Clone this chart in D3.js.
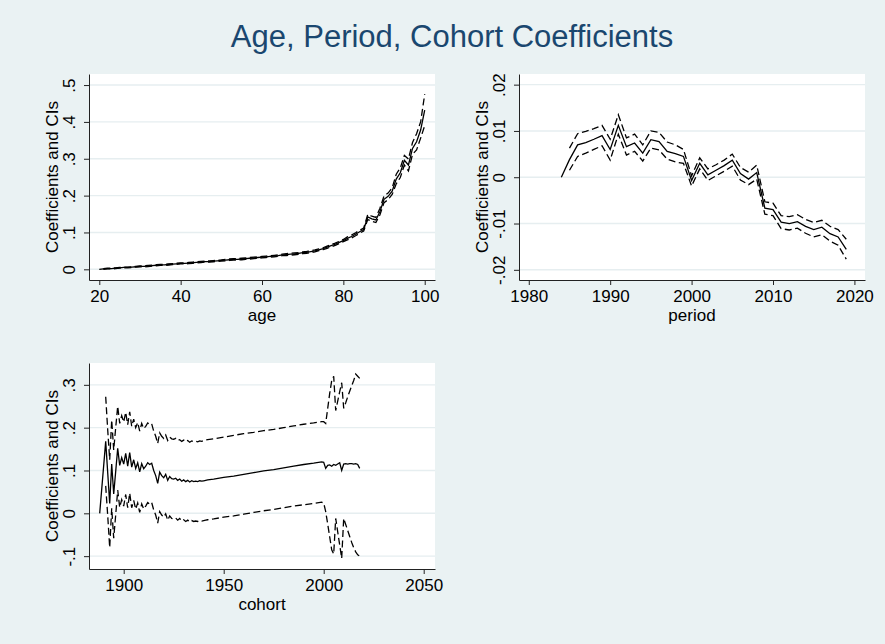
<!DOCTYPE html>
<html><head><meta charset="utf-8">
<script src="https://cdn.jsdelivr.net/npm/d3@7"></script>
<style>body{margin:0;background:#eaf2f3} svg{display:block}</style>
</head><body><svg id="c" width="885" height="644"></svg>
<script>
// ---------- AGE ----------
const ageX = [20,21,22,23,24,25,26,27,28,29,30,31,32,33,34,35,36,37,38,39,40,41,42,43,44,45,46,47,48,49,50,51,52,53,54,55,56,57,58,59,60,61,62,63,64,65,66,67,68,69,70,71,72,73,74,75,76,77,78,79,80,81,82,83,84,85,86,87,88,89,90,91,92,93,94,95,96,97,98,99,100];
const ageCoef = [0,.001,.002,.002,.003,.004,.005,.005,.006,.007,.008,.008,.009,.010,.011,.012,.012,.013,.014,.015,.016,.016,.017,.018,.019,.020,.021,.021,.022,.023,.024,.025,.026,.027,.027,.028,.029,.030,.031,.032,.033,.034,.035,.036,.037,.039,.040,.041,.042,.043,.045,.046,.048,.050,.053,.056,.060,.064,.068,.073,.078,.084,.089,.095,.102,.108,.142,.137,.134,.157,.190,.198,.212,.245,.262,.296,.283,.328,.346,.378,.432];
const ageUpper = [null,.002,.003,.003,.004,.005,.006,.006,.007,.008,.009,.0095,.0105,.0115,.0125,.0135,.0135,.0145,.0155,.0165,.0175,.0175,.0185,.0195,.0205,.0215,.0225,.0225,.0235,.0245,.0255,.027,.028,.029,.029,.030,.031,.032,.033,.034,.035,.036,.037,.038,.039,.041,.0425,.0435,.0445,.0455,.0475,.0485,.0505,.0525,.0555,.0585,.063,.067,.071,.076,.081,.088,.093,.099,.106,.112,.149,.144,.141,.166,.199,.207,.221,.258,.275,.309,.299,.344,.368,.400,.475];
const ageLower = [null,0,.001,.001,.002,.003,.004,.004,.005,.006,.007,.0065,.0075,.0085,.0095,.0105,.0105,.0115,.0125,.0135,.0145,.0145,.0155,.0165,.0175,.0185,.0195,.0195,.0205,.0215,.0225,.023,.024,.025,.025,.026,.027,.028,.029,.030,.031,.032,.033,.034,.035,.037,.0375,.0385,.0395,.0405,.0425,.0435,.0455,.0475,.0505,.0535,.057,.061,.065,.070,.075,.080,.085,.091,.098,.104,.135,.130,.127,.148,.181,.189,.203,.232,.249,.283,.267,.312,.324,.356,.390];
const ageXTicks = [20,40,60,80,100];
const ageYTicks = [0,.1,.2,.3,.4,.5];
const ageYLabels = ["0",".1",".2",".3",".4",".5"];

// ---------- PERIOD ----------
const periodX = [1984,1985,1986,1987,1988,1989,1990,1991,1992,1993,1994,1995,1996,1997,1998,1999,2000,2001,2002,2003,2004,2005,2006,2007,2008,2009,2010,2011,2012,2013,2014,2015,2016,2017,2018,2019];
const periodCoef = [0,.0038,.0070,.0075,.0082,.0090,.0060,.0112,.0066,.0074,.0052,.0081,.0077,.0056,.0051,.0045,-.0007,.0030,.0005,.0015,.0025,.0037,.0008,-.0004,.0010,-.0067,-.0070,-.0097,-.0100,-.0096,-.0106,-.0113,-.0108,-.0122,-.0129,-.0156];
const periodUpper = [null,.0063,.0094,.0099,.0105,.0112,.0082,.0135,.0085,.0093,.0070,.0100,.0097,.0076,.0070,.0060,.0003,.0042,.0018,.0027,.0037,.0050,.0021,.0011,.0026,-.0053,-.0056,-.0083,-.0085,-.0081,-.0091,-.0098,-.0093,-.0106,-.0113,-.0134];
const periodLower = [null,.0015,.0045,.0052,.0060,.0068,.0037,.0093,.0048,.0056,.0035,.0063,.0059,.0039,.0033,.0030,-.0019,.0018,-.0007,.0003,.0013,.0024,-.0006,-.0016,-.0004,-.0080,-.0083,-.0111,-.0114,-.0110,-.0121,-.0129,-.0124,-.0138,-.0147,-.0177];
const periodXTicks = [1980,1990,2000,2010,2020];
const periodYTicks = [-.02,-.01,0,.01,.02];
const periodYLabels = ["-.02","-.01","0",".01",".02"];

// ---------- COHORT ----------
const cohortX = [1888,1891,1892,1893,1894,1895,1896,1897,1898,1899,1900,1901,1902,1903,1904,1905,1906,1907,1908,1909,1910,1911,1912,1913,1914,1915,1916,1917,1918,1919,1920,1921,1922,1923,1924,1925,1926,1927,1928,1929,1930,1931,1932,1933,1934,1935,1936,1937,1938,1939,1940,1941,1942,1945,1950,1955,1960,1965,1970,1975,1980,1985,1990,1995,1999,2000,2001,2002,2003,2004,2005,2006,2007,2008,2009,2010,2011,2012,2013,2014,2015,2016,2017,2018];
const cohortCoef = [0,.168,.095,.023,.115,.045,.098,.152,.112,.130,.115,.140,.110,.142,.108,.125,.105,.118,.097,.116,.104,.110,.118,.114,.117,.100,.088,.070,.096,.088,.083,.091,.077,.086,.081,.080,.082,.077,.080,.075,.078,.074,.077,.073,.076,.074,.075,.074,.076,.075,.076,.077,.078,.080,.084,.087,.091,.095,.099,.102,.106,.110,.114,.117,.120,.119,.105,.112,.113,.110,.114,.112,.115,.118,.100,.115,.116,.115,.116,.116,.115,.116,.114,.105];
const cohortUpper = [null,.272,.195,.125,.218,.148,.200,.250,.210,.228,.213,.236,.207,.237,.203,.220,.200,.212,.192,.210,.198,.203,.211,.207,.209,.192,.180,.163,.188,.180,.175,.183,.170,.178,.174,.173,.175,.170,.172,.168,.171,.167,.170,.166,.169,.167,.168,.167,.169,.168,.170,.171,.172,.174,.178,.182,.186,.189,.193,.196,.200,.204,.208,.211,.214,.214,.210,.245,.280,.310,.320,.240,.262,.284,.305,.245,.258,.272,.285,.298,.310,.325,.320,.315];
const cohortLower = [null,.064,-.005,-.080,.012,-.058,-.004,.054,.014,.032,.017,.044,.013,.047,.013,.030,.010,.024,.002,.022,.010,.017,.025,.021,.025,.008,-.004,-.023,.004,-.004,-.009,-.001,-.016,-.006,-.012,-.013,-.011,-.016,-.012,-.018,-.015,-.019,-.016,-.020,-.017,-.019,-.018,-.019,-.017,-.018,-.017,-.016,-.015,-.013,-.009,-.006,-.002,.002,.006,.009,.013,.017,.020,.023,.026,.024,.004,-.025,-.055,-.085,-.095,-.012,-.043,-.074,-.105,-.012,-.026,-.040,-.054,-.068,-.080,-.090,-.097,-.100];
const cohortXTicks = [1900,1950,2000,2050];
const cohortYTicks = [-.1,0,.1,.2,.3];
const cohortYLabels = ["-.1","0",".1",".2",".3"];

const FONT = '"Liberation Sans", Arial, Helvetica, sans-serif';
const svg = d3.select("#c");
svg.append("rect").attr("width",885).attr("height",644).attr("fill","#eaf2f3");
svg.append("text").attr("x",452).attr("y",47).attr("text-anchor","middle")
  .attr("font-family",FONT).attr("font-size",31).attr("fill","#1a476f")
  .text("Age, Period, Cohort Coefficients");

function panel(o){
  const x = d3.scaleLinear().domain(o.xDomain).range([o.left,o.right]);
  const y = d3.scaleLinear().domain(o.yDomain).range([o.bottom,o.top]);
  const g = svg.append("g");
  g.append("rect").attr("x",o.left).attr("y",o.top)
    .attr("width",o.right-o.left).attr("height",o.bottom-o.top).attr("fill","#fff");
  g.selectAll(null).data(o.yTicks).join("line")
    .attr("x1",o.left).attr("x2",o.right)
    .attr("y1",d=>y(d)).attr("y2",d=>y(d))
    .attr("stroke","#e6eef0").attr("stroke-width",1.4);
  const series = [
    {v:o.lower, dash:"7,3.5"},
    {v:o.upper, dash:"7,3.5"},
    {v:o.coef, dash:null}
  ];
  series.forEach(s=>{
    const pts = o.xs.map((xv,i)=>[xv,s.v[i]]);
    const line = d3.line().defined(d=>d[1]!==null).x(d=>x(d[0])).y(d=>y(d[1]));
    g.append("path").attr("d",line(pts)).attr("fill","none")
      .attr("stroke","#000").attr("stroke-width",1.3)
      .attr("stroke-dasharray",s.dash);
  });
  const xa = g.append("g").attr("transform",`translate(0,${o.bottom})`)
    .call(d3.axisBottom(x).tickValues(o.xTicks).tickFormat(d3.format("d"))
      .tickSize(5).tickSizeOuter(0).tickPadding(5));
  xa.attr("font-family",FONT).attr("font-size",17);
  xa.selectAll("path,line").attr("stroke","#222");
  xa.selectAll("text").attr("fill","#000");
  const ya = g.append("g").attr("transform",`translate(${o.left},0)`)
    .call(d3.axisLeft(y).tickValues(o.yTicks).tickFormat((d,i)=>o.yLabels[i])
      .tickSize(5).tickSizeOuter(0));
  ya.attr("font-family",FONT).attr("font-size",17);
  ya.selectAll("path,line").attr("stroke","#222");
  ya.selectAll(".tick text").attr("transform","rotate(-90)")
    .attr("x",0).attr("y",-14).attr("dy",0).attr("text-anchor","middle").attr("fill","#000");
  g.append("text").attr("x",(o.left+o.right)/2).attr("y",o.bottom+40.5)
    .attr("text-anchor","middle").attr("font-family",FONT).attr("font-size",17)
    .text(o.xTitle);
  g.append("text").attr("transform",`translate(${o.left-31},${(o.top+o.bottom)/2}) rotate(-90)`)
    .attr("text-anchor","middle").attr("font-family",FONT).attr("font-size",17)
    .text("Coefficients and CIs");
}

panel({xs:ageX, coef:ageCoef, upper:ageUpper, lower:ageLower,
  xTicks:ageXTicks, yTicks:ageYTicks, yLabels:ageYLabels, xTitle:"age",
  xDomain:[17.47,102.53], yDomain:[-0.029,0.530],
  left:89, right:435, top:74, bottom:280});
panel({xs:periodX, coef:periodCoef, upper:periodUpper, lower:periodLower,
  xTicks:periodXTicks, yTicks:periodYTicks, yLabels:periodYLabels, xTitle:"period",
  xDomain:[1978.8,2021.3], yDomain:[-0.0222,0.0223],
  left:519, right:865, top:74, bottom:280});
panel({xs:cohortX, coef:cohortCoef, upper:cohortUpper, lower:cohortLower,
  xTicks:cohortXTicks, yTicks:cohortYTicks, yLabels:cohortYLabels, xTitle:"cohort",
  xDomain:[1882.65,2055.65], yDomain:[-0.130,0.351],
  left:89, right:435, top:363, bottom:569});
</script>
</body></html>
